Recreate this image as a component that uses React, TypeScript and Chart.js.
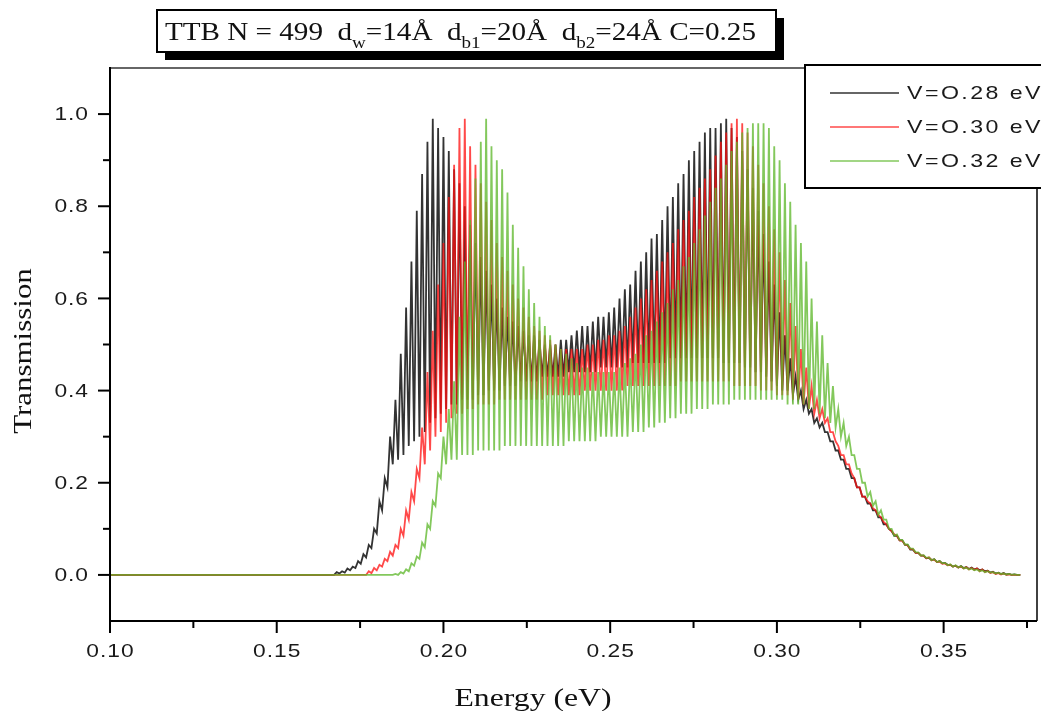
import React, { useEffect, useRef } from "react";
import { Chart, registerables } from "chart.js";

Chart.register(...registerables);

// ---------- data ----------
const SERIES_LABELS = ["V=O.28 eV", "V=O.30 eV", "V=O.32 eV"];
const SERIES_COLORS = [
  "rgba(0,0,0,0.8)",
  "rgba(255,16,16,0.76)",
  "rgba(96,184,46,0.78)",
];

// Energy grid: peaks at ENERGY_START + 2*i*HALF_STEP, troughs half a step later
const ENERGY_START = 0.16;
const HALF_STEP = 0.0008;
const ENERGY_END = 0.373;

const X_MIN = 0.1;
const X_MAX = 0.378;
const Y_MIN = -0.1;
const Y_MAX = 1.1;

const X_MAJOR_TICKS = [0.1, 0.15, 0.2, 0.25, 0.3, 0.35];
const X_MINOR_TICKS = [0.125, 0.175, 0.225, 0.275, 0.325, 0.375];
const Y_MAJOR_TICKS = [0.0, 0.2, 0.4, 0.6, 0.8, 1.0];
const Y_MINOR_TICKS = [0.1, 0.3, 0.5, 0.7, 0.9];

// V = 0.28 eV
const blackPeaks = [
  0, 0, 0, 0, 0,
  0.006, 0.008, 0.014, 0.018, 0.03,
  0.045, 0.065, 0.1, 0.16, 0.21,
  0.3, 0.38, 0.48, 0.58, 0.68,
  0.79, 0.87, 0.94, 0.99, 0.97,
  0.95, 0.92, 0.88, 0.85, 0.8,
  0.76, 0.72, 0.69, 0.66, 0.63,
  0.6, 0.58, 0.56, 0.55, 0.54,
  0.53, 0.52, 0.52, 0.51, 0.5,
  0.5, 0.5, 0.51, 0.51, 0.52,
  0.53, 0.54, 0.54, 0.55, 0.56,
  0.56, 0.57, 0.58, 0.6, 0.62,
  0.63, 0.66, 0.68, 0.7, 0.73,
  0.74, 0.77, 0.8, 0.82, 0.85,
  0.87, 0.9, 0.92, 0.94, 0.96,
  0.97, 0.97, 0.98, 0.99, 0.97,
  0.95, 0.92, 0.88, 0.84, 0.79,
  0.74, 0.68, 0.63, 0.57, 0.52,
  0.47, 0.43, 0.4, 0.38, 0.36,
  0.34, 0.33, 0.31, 0.29, 0.27,
  0.25, 0.23, 0.21, 0.19, 0.17,
  0.155, 0.14, 0.125, 0.11, 0.095,
  0.085, 0.075, 0.065, 0.055, 0.048,
  0.042, 0.037, 0.034, 0.03, 0.026,
  0.022, 0.02, 0.019, 0.017, 0.016,
  0.014, 0.012, 0.009, 0.007, 0.005,
  0.004, 0.002, 0.001,
];
const blackTroughs = [
  0, 0, 0, 0, 0,
  0.003, 0.005, 0.01, 0.015, 0.024,
  0.038, 0.058, 0.09, 0.14, 0.19,
  0.24, 0.25, 0.26, 0.28, 0.29,
  0.3, 0.31, 0.33, 0.34, 0.35,
  0.36, 0.37, 0.37, 0.38, 0.38,
  0.38, 0.39, 0.39, 0.4, 0.4,
  0.4, 0.41, 0.41, 0.41, 0.42,
  0.42, 0.42, 0.42, 0.43, 0.43,
  0.43, 0.43, 0.43, 0.44, 0.44,
  0.44, 0.44, 0.44, 0.44, 0.45,
  0.45, 0.45, 0.45, 0.45, 0.45,
  0.46, 0.46, 0.46, 0.46, 0.46,
  0.46, 0.46, 0.47, 0.47, 0.47,
  0.47, 0.47, 0.47, 0.47, 0.47,
  0.47, 0.47, 0.46, 0.46, 0.46,
  0.46, 0.45, 0.45, 0.44, 0.44,
  0.43, 0.42, 0.41, 0.4, 0.4,
  0.39, 0.38, 0.36, 0.35, 0.33,
  0.32, 0.31, 0.29, 0.27, 0.25,
  0.23, 0.21, 0.19, 0.17, 0.155,
  0.14, 0.125, 0.11, 0.1, 0.085,
  0.075, 0.065, 0.055, 0.048, 0.042,
  0.036, 0.032, 0.028, 0.025, 0.022,
  0.018, 0.016, 0.015, 0.013, 0.012,
  0.01, 0.008, 0.005, 0.003, 0.002,
  0.001, 0, 0,
];

// V = 0.30 eV
const redPeaks = [
  0, 0, 0, 0, 0,
  0, 0, 0, 0, 0,
  0, 0.008, 0.015, 0.022, 0.035,
  0.05, 0.065, 0.1, 0.14, 0.18,
  0.23, 0.32, 0.44, 0.53, 0.63,
  0.72, 0.82, 0.89, 0.97, 0.99,
  0.93, 0.89, 0.85, 0.81, 0.77,
  0.72, 0.69, 0.66, 0.63, 0.6,
  0.58, 0.56, 0.54, 0.53, 0.52,
  0.51, 0.5, 0.49, 0.49, 0.49,
  0.49, 0.49, 0.5, 0.5, 0.51,
  0.51, 0.52, 0.52, 0.53, 0.54,
  0.56, 0.58, 0.6, 0.62, 0.64,
  0.66, 0.68, 0.7, 0.72, 0.75,
  0.77, 0.79, 0.82, 0.84, 0.86,
  0.88, 0.91, 0.94, 0.96, 0.98,
  0.99, 0.98, 0.96, 0.93, 0.89,
  0.85, 0.8, 0.75, 0.7, 0.64,
  0.59, 0.54, 0.49, 0.45, 0.41,
  0.38, 0.36, 0.34, 0.31, 0.28,
  0.26, 0.24, 0.21, 0.19, 0.17,
  0.155, 0.14, 0.125, 0.11, 0.095,
  0.085, 0.074, 0.064, 0.056, 0.048,
  0.042, 0.038, 0.033, 0.029, 0.025,
  0.022, 0.02, 0.018, 0.017, 0.015,
  0.014, 0.012, 0.009, 0.006, 0.004,
  0.003, 0.001, 0,
];
const redTroughs = [
  0, 0, 0, 0, 0,
  0, 0, 0, 0, 0,
  0, 0.004, 0.01, 0.018, 0.03,
  0.042, 0.058, 0.085, 0.12, 0.16,
  0.21, 0.24, 0.27, 0.3, 0.31,
  0.33, 0.34, 0.35, 0.35, 0.36,
  0.36, 0.37, 0.37, 0.37, 0.37,
  0.38, 0.38, 0.38, 0.38, 0.38,
  0.38, 0.38, 0.38, 0.38, 0.39,
  0.39, 0.39, 0.39, 0.39, 0.39,
  0.39, 0.4, 0.4, 0.4, 0.4,
  0.4, 0.4, 0.4, 0.4, 0.41,
  0.41, 0.41, 0.41, 0.41, 0.41,
  0.41, 0.41, 0.41, 0.41, 0.42,
  0.42, 0.42, 0.42, 0.42, 0.42,
  0.42, 0.42, 0.42, 0.42, 0.41,
  0.41, 0.41, 0.41, 0.41, 0.4,
  0.4, 0.4, 0.39, 0.39, 0.39,
  0.38, 0.38, 0.37, 0.36, 0.35,
  0.34, 0.33, 0.31, 0.29, 0.26,
  0.24, 0.22, 0.19, 0.17, 0.16,
  0.145, 0.13, 0.115, 0.1, 0.088,
  0.075, 0.066, 0.056, 0.048, 0.042,
  0.036, 0.032, 0.028, 0.024, 0.021,
  0.018, 0.016, 0.014, 0.012, 0.011,
  0.008, 0.006, 0.004, 0.002, 0.001,
  0, 0, 0,
];

// V = 0.32 eV
const greenPeaks = [
  0, 0, 0, 0, 0,
  0, 0, 0, 0, 0,
  0, 0, 0, 0, 0,
  0, 0.002, 0.006, 0.012, 0.025,
  0.04, 0.07, 0.11, 0.16, 0.22,
  0.3, 0.36, 0.42, 0.56, 0.68,
  0.77, 0.86, 0.94, 0.99, 0.93,
  0.9, 0.88, 0.83, 0.76, 0.71,
  0.67, 0.62, 0.59, 0.56, 0.54,
  0.52, 0.5, 0.49, 0.48, 0.47,
  0.46, 0.45, 0.45, 0.44, 0.44,
  0.44, 0.44, 0.44, 0.45, 0.46,
  0.47, 0.48, 0.5, 0.52, 0.53,
  0.55, 0.57, 0.59, 0.62, 0.64,
  0.67, 0.69, 0.72, 0.75, 0.78,
  0.81, 0.84, 0.86, 0.89, 0.92,
  0.94, 0.96, 0.97, 0.98, 0.98,
  0.98, 0.97, 0.93, 0.9, 0.85,
  0.81, 0.76, 0.72, 0.68, 0.6,
  0.55, 0.52, 0.46, 0.41, 0.36,
  0.33, 0.3, 0.26, 0.23, 0.2,
  0.18, 0.16, 0.14, 0.12, 0.1,
  0.088, 0.076, 0.066, 0.057, 0.049,
  0.043, 0.038, 0.034, 0.03, 0.026,
  0.023, 0.021, 0.019, 0.016, 0.014,
  0.012, 0.01, 0.008, 0.006, 0.005,
  0.003, 0.002, 0.001,
];
const greenTroughs = [
  0, 0, 0, 0, 0,
  0, 0, 0, 0, 0,
  0, 0, 0, 0, 0,
  0, 0, 0.003, 0.008, 0.02,
  0.035, 0.06, 0.1, 0.15, 0.21,
  0.24, 0.25, 0.25, 0.26, 0.26,
  0.26, 0.27, 0.27, 0.27, 0.27,
  0.27, 0.28, 0.28, 0.28, 0.28,
  0.28, 0.28, 0.28, 0.28, 0.28,
  0.28, 0.28, 0.28, 0.29, 0.29,
  0.29, 0.29, 0.29, 0.29, 0.3,
  0.3, 0.3, 0.3, 0.3, 0.3,
  0.31, 0.31, 0.31, 0.32, 0.32,
  0.33, 0.33, 0.34, 0.34, 0.35,
  0.35, 0.35, 0.36, 0.36, 0.36,
  0.37, 0.37, 0.37, 0.37, 0.38,
  0.38, 0.38, 0.38, 0.38, 0.38,
  0.38, 0.38, 0.38, 0.38, 0.37,
  0.37, 0.37, 0.37, 0.36, 0.36,
  0.35, 0.34, 0.33, 0.32, 0.3,
  0.28, 0.26, 0.23, 0.2, 0.17,
  0.15, 0.13, 0.12, 0.1, 0.085,
  0.076, 0.066, 0.057, 0.049, 0.042,
  0.037, 0.032, 0.028, 0.025, 0.021,
  0.018, 0.016, 0.014, 0.012, 0.01,
  0.008, 0.006, 0.005, 0.003, 0.002,
  0.001, 0, 0,
];

const SERIES_PEAKS = [blackPeaks, redPeaks, greenPeaks];
const SERIES_TROUGHS = [blackTroughs, redTroughs, greenTroughs];

const TITLE_SEGMENTS: { text: string; sub?: boolean }[] = [
  { text: "TTB N = 499  d" },
  { text: "w", sub: true },
  { text: "=14Å  d" },
  { text: "b1", sub: true },
  { text: "=20Å  d" },
  { text: "b2", sub: true },
  { text: "=24Å C=0.25" },
];
const X_TITLE = "Energy (eV)";
const Y_TITLE = "Transmission";

const SANS = '"Liberation Sans", Arial, sans-serif';
const SERIF = '"Liberation Serif", "Times New Roman", serif';

// ---------- helpers ----------
function buildPoints(peaks: number[], troughs: number[]) {
  const pts: { x: number; y: number }[] = [{ x: X_MIN, y: 0 }];
  for (let i = 0; i < peaks.length; i++) {
    pts.push({ x: ENERGY_START + 2 * i * HALF_STEP, y: peaks[i] });
    pts.push({ x: ENERGY_START + (2 * i + 1) * HALF_STEP, y: troughs[i] });
  }
  pts.push({ x: ENERGY_END, y: 0 });
  return pts;
}

// draws text with a horizontal stretch (the reference glyphs are wide)
function drawText(
  ctx: CanvasRenderingContext2D,
  text: string,
  x: number,
  y: number,
  font: string,
  align: "left" | "center" | "right",
  sx: number,
  spacing: number,
  baseline: CanvasTextBaseline
) {
  ctx.save();
  ctx.font = font;
  (ctx as any).letterSpacing = spacing + "px";
  ctx.textAlign = "left";
  ctx.textBaseline = baseline;
  const adv = ctx.measureText(text).width;
  const w = (adv - spacing) * sx;
  const x0 = align === "left" ? x : align === "center" ? x - w / 2 : x - w;
  ctx.translate(x0, y);
  ctx.scale(sx, 1);
  ctx.fillText(text, 0, 0);
  ctx.restore();
  return adv * sx;
}

const decorPlugin = {
  id: "decor",
  afterDraw(chart: any) {
    const ctx: CanvasRenderingContext2D = chart.ctx;
    const xs = chart.scales.x;
    const ys = chart.scales.y;
    const { left, right, top, bottom } = chart.chartArea;
    ctx.save();
    const line = (x1: number, y1: number, x2: number, y2: number) => {
      ctx.beginPath();
      ctx.moveTo(x1, y1);
      ctx.lineTo(x2, y2);
      ctx.stroke();
    };
    // frame
    ctx.lineCap = "butt";
    ctx.strokeStyle = "#666";
    ctx.lineWidth = 2;
    line(left, top, right, top);
    ctx.strokeStyle = "#111";
    ctx.lineWidth = 1.6;
    line(right, top, right, bottom);
    ctx.strokeStyle = "#000";
    ctx.lineWidth = 2;
    line(left, top - 1, left, bottom + 1);
    line(left - 1, bottom, right, bottom);

    // x ticks
    ctx.lineWidth = 2;
    for (const v of X_MAJOR_TICKS) {
      const p = xs.getPixelForValue(v);
      line(p, bottom, p, bottom + 12);
    }
    for (const v of X_MINOR_TICKS) {
      const p = xs.getPixelForValue(v);
      line(p, bottom, p, bottom + 7);
    }
    // y ticks
    for (const v of Y_MAJOR_TICKS) {
      const p = ys.getPixelForValue(v);
      line(left - 12, p, left, p);
    }
    for (const v of Y_MINOR_TICKS) {
      const p = ys.getPixelForValue(v);
      line(left - 7, p, left, p);
    }

    // tick labels
    ctx.fillStyle = "#1a1a1a";
    const tickFont = "19px " + SANS;
    for (const v of X_MAJOR_TICKS) {
      drawText(ctx, v.toFixed(2), xs.getPixelForValue(v), bottom + 31, tickFont, "center", 1.2, 0.8, "middle");
    }
    for (const v of Y_MAJOR_TICKS) {
      drawText(ctx, v.toFixed(1), left - 22, ys.getPixelForValue(v) + 1, tickFont, "right", 1.2, 0.8, "middle");
    }

    // axis titles
    ctx.fillStyle = "#111";
    drawText(ctx, X_TITLE, 533, 706, "26px " + SERIF, "center", 1.22, 0, "alphabetic");
    ctx.save();
    ctx.translate(31, 351);
    ctx.rotate(-Math.PI / 2);
    drawText(ctx, Y_TITLE, 0, 0, "26px " + SERIF, "center", 1.19, 0, "alphabetic");
    ctx.restore();

    // title box with shadow
    const bx = 157, by = 10, bw = 619, bh = 42;
    ctx.fillStyle = "#000";
    ctx.fillRect(bx + 8, by + 8, bw, bh);
    ctx.fillStyle = "#fff";
    ctx.fillRect(bx, by, bw, bh);
    ctx.strokeStyle = "#000";
    ctx.lineWidth = 2;
    ctx.strokeRect(bx, by, bw, bh);
    ctx.fillStyle = "#111";
    let tx = bx + 8;
    const baseY = by + 30;
    for (const seg of TITLE_SEGMENTS) {
      if (seg.sub) {
        tx += drawText(ctx, seg.text, tx, baseY + 8, "17px " + SERIF, "left", 1.12, 0, "alphabetic");
      } else {
        tx += drawText(ctx, seg.text, tx, baseY, "26px " + SERIF, "left", 1.12, 0, "alphabetic");
      }
    }

    // legend
    const lx = 805, ly = 65, lw = 260, lh = 123;
    ctx.fillStyle = "#fff";
    ctx.fillRect(lx, ly, lw, lh);
    ctx.strokeStyle = "#000";
    ctx.lineWidth = 2;
    ctx.strokeRect(lx, ly, lw, lh);
    SERIES_LABELS.forEach((label, i) => {
      const yy = 93 + i * 34;
      ctx.strokeStyle = SERIES_COLORS[i];
      ctx.lineWidth = 1.5;
      line(830, yy, 899, yy);
      ctx.fillStyle = "#1a1a1a";
      drawText(ctx, label, 907, yy + 1, "19px " + SANS, "left", 1.22, 2, "middle");
    });
    ctx.restore();
  },
};

export default function App() {
  const canvasRef = useRef<HTMLCanvasElement | null>(null);

  useEffect(() => {
    const canvas = canvasRef.current;
    if (!canvas) return;
    const datasets = SERIES_LABELS.map((label, i) => ({
      label,
      data: buildPoints(SERIES_PEAKS[i], SERIES_TROUGHS[i]),
      borderColor: SERIES_COLORS[i],
      backgroundColor: SERIES_COLORS[i],
      borderWidth: 1.8,
      pointRadius: 0,
      tension: 0,
      fill: false,
      order: 3 - i,
    }));
    const chart = new Chart(canvas, {
      type: "line",
      data: { datasets },
      options: {
        animation: false,
        responsive: false,
        devicePixelRatio: 1,
        parsing: false,
        normalized: true,
        layout: { padding: { left: 0, top: 68, right: 4, bottom: 0 } },
        plugins: {
          legend: { display: false },
          title: { display: false },
          tooltip: { enabled: false },
        },
        scales: {
          x: {
            type: "linear",
            min: X_MIN,
            max: X_MAX,
            grid: { display: false },
            border: { display: false },
            ticks: { display: false },
            afterFit: (s: any) => {
              s.height = 90;
            },
          },
          y: {
            type: "linear",
            min: Y_MIN,
            max: Y_MAX,
            grid: { display: false },
            border: { display: false },
            ticks: { display: false },
            afterFit: (s: any) => {
              s.width = 110;
            },
          },
        },
      } as any,
      plugins: [decorPlugin],
    });
    return () => chart.destroy();
  }, []);

  return (
    <div
      style={{
        position: "absolute",
        left: 0,
        top: 0,
        width: 1041,
        height: 711,
        background: "#fff",
      }}
    >
      <canvas
        ref={canvasRef}
        width={1041}
        height={711}
        style={{ display: "block", width: 1041, height: 711 }}
      />
    </div>
  );
}
